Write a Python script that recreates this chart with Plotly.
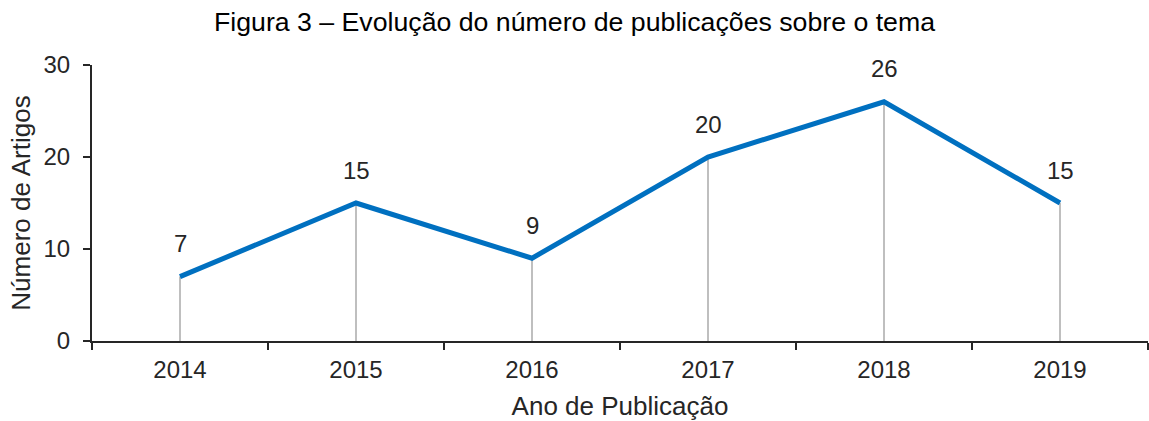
import plotly.graph_objects as go

years = ["2014", "2015", "2016", "2017", "2018", "2019"]
articles = [7, 15, 9, 20, 26, 15]
y_ticks = [0, 10, 20, 30]

FONT = "Liberation Sans, Arial, sans-serif"
TXT = "#262626"

fig = go.Figure()

# drop lines from each point to the axis
dx, dy = [], []
for yr, v in zip(years, articles):
    dx += [yr, yr, None]
    dy += [0, v, None]
fig.add_trace(go.Scatter(x=dx, y=dy, mode="lines",
                         line=dict(color="#bfbfbf", width=2),
                         hoverinfo="skip", showlegend=False))

fig.add_trace(go.Scatter(x=years, y=articles, mode="lines",
                         line=dict(color="#0070C0", width=5),
                         showlegend=False))

for i, v in enumerate(articles):
    fig.add_annotation(x=i, y=v, xref="x", yref="y", text=str(v), showarrow=False,
                       yshift=33, font=dict(size=24, color=TXT, family=FONT))

fig.update_layout(
    width=1149, height=421,
    margin=dict(l=92, r=1, t=65, b=80),
    paper_bgcolor="white", plot_bgcolor="white",
    font=dict(family=FONT, color=TXT, size=24),
    title=dict(text="Figura 3 – Evolução do número de publicações sobre o tema",
               x=0.5, xanchor="center", y=1 - 22 / 421, yanchor="middle",
               font=dict(size=26.7, color="#000000")),
)
fig.update_xaxes(type="category", range=[-0.5, 5.5],
                 showline=True, linecolor="#262626", linewidth=2,
                 ticks="outside", tickson="boundaries", ticklen=7,
                 tickcolor="#262626", tickwidth=2,
                 showgrid=False, zeroline=False,
                 ticklabelstandoff=6,
                 tickfont=dict(size=24, color=TXT),
                 title=dict(text="Ano de Publicação", font=dict(size=26, color=TXT), standoff=16))
fig.update_yaxes(range=[0, 30], tickvals=y_ticks,
                 showline=True, linecolor="#262626", linewidth=2,
                 ticks="outside", ticklen=7, tickcolor="#262626", tickwidth=2,
                 showgrid=False, zeroline=False,
                 ticklabelstandoff=8,
                 tickfont=dict(size=24, color=TXT),
                 title=dict(text="Número de Artigos", font=dict(size=26, color=TXT), standoff=5))

fig.write_html("out.html")
